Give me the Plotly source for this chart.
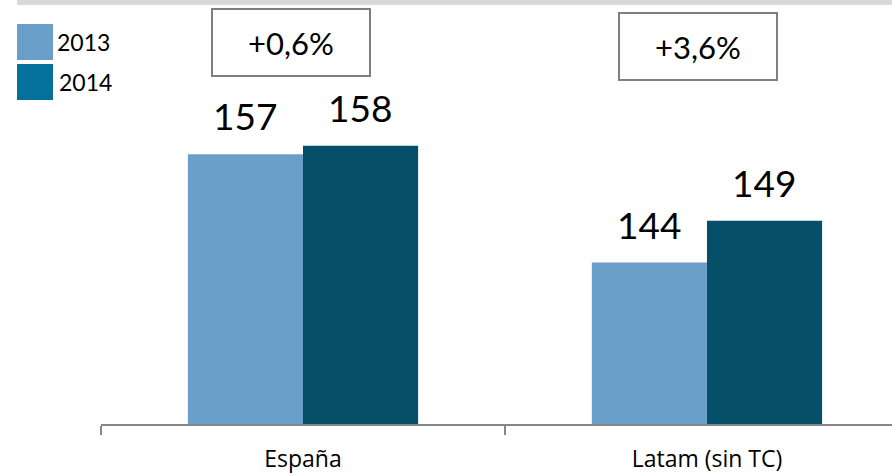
import plotly.graph_objects as go

categories = ["España", "Latam (sin TC)"]
series_names = ["2013", "2014"]
values_2013 = [157, 144]
values_2014 = [158, 149]
growth_labels = ["+0,6%", "+3,6%"]

W, H = 892, 476
ML, MR, MT, MB = 101, 0, 24, 52
PW, PH = W - ML - MR, H - MT - MB

def px_x(p):
    return (p - ML) / PW

def px_y(p):
    return (H - MB - p) / PH

FONT = "Lato, 'Open Sans', sans-serif"
TICKFONT = "'Open Sans', Lato, sans-serif"
c2013 = "#6A9FC9"
c2014 = "#054F69"
c2014_leg = "#03719C"

fig = go.Figure()
fig.add_trace(go.Bar(x=categories, y=values_2013, name=series_names[0],
                     marker=dict(color=c2013, line=dict(width=0))))
fig.add_trace(go.Bar(x=categories, y=values_2014, name=series_names[1],
                     marker=dict(color=c2014, line=dict(width=0))))

annotations = []
for i, cat in enumerate(categories):
    for vals, sh in ((values_2013, -57.5), (values_2014, 57.5)):
        annotations.append(dict(x=cat, y=vals[i], xref="x", yref="y", text=str(vals[i]),
                                showarrow=False, yanchor="bottom", xshift=sh, yshift=14,
                                font=dict(family=FONT, size=37, color="#000000")))

box_centers = [(291, 42.5), (698, 46.5)]
for i, lab in enumerate(growth_labels):
    cx, cy = box_centers[i]
    annotations.append(dict(x=px_x(cx), y=px_y(cy), xref="paper", yref="paper", text=lab,
                            showarrow=False, xanchor="center", yanchor="middle",
                            width=156, height=65, borderpad=0, bordercolor="#7F7F7F",
                            borderwidth=2, bgcolor="#FFFFFF",
                            font=dict(family=FONT, size=31, color="#000000")))

# legend
leg = [(series_names[0], c2013, 24, 60, 55), (series_names[1], c2014_leg, 64, 100, 57)]
shapes = [dict(type="rect", xref="paper", yref="paper", x0=px_x(17), x1=px_x(W), y0=px_y(5), y1=px_y(0),
               fillcolor="#D9D9D9", line=dict(width=0), layer="below")]
for name, col, y0, y1, tx in leg:
    shapes.append(dict(type="rect", xref="paper", yref="paper", x0=px_x(17), x1=px_x(53),
                       y0=px_y(y1), y1=px_y(y0), fillcolor=col, line=dict(width=0)))
    annotations.append(dict(x=px_x(tx), y=px_y((y0 + y1) / 2), xref="paper", yref="paper", text=name,
                            showarrow=False, xanchor="left", yanchor="middle",
                            font=dict(family=FONT, size=23, color="#000000")))

fig.update_layout(
    width=W, height=H,
    margin=dict(l=ML, r=MR, t=MT, b=MB),
    paper_bgcolor="#FFFFFF", plot_bgcolor="#FFFFFF",
    barmode="group", bargap=0.43, bargroupgap=0,
    showlegend=False,
    annotations=annotations, shapes=shapes,
    xaxis=dict(type="category", range=[-0.5, 1.458], tickson="boundaries",
               ticks="outside", ticklen=9, tickwidth=2, tickcolor="#868686",
               showline=True, linecolor="#868686", linewidth=2, showgrid=False, zeroline=False,
               tickfont=dict(family=TICKFONT, size=23, color="#000000"), ticklabelstandoff=13),
    yaxis=dict(range=[124.65, 172.6], visible=False, showgrid=False, zeroline=False),
    font=dict(family=FONT),
)

fig.write_html("out.html", config={"displayModeBar": False},
               post_script="document.body.style.margin='0';document.body.style.overflow='hidden';")
